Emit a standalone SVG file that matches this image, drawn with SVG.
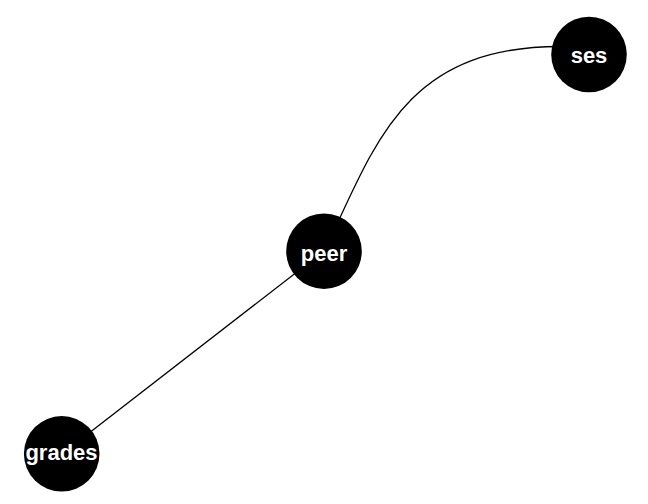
<svg xmlns="http://www.w3.org/2000/svg" width="648" height="504" viewBox="0 0 648 504">
<style>
.edge{fill:none;stroke:#000;stroke-width:1.3}
.node circle{fill:#000}
.node text{fill:#fff;font-family:"Liberation Sans",Arial,sans-serif;font-weight:bold;font-size:22px;text-anchor:middle}
</style>
<rect width="648" height="504" fill="#fff"/>
<g id="connectors">
<path class="edge" d="M324,251 L62,454"/>
<path class="edge" d="M333,233 C380,130 415,46.5 560,46.5"/>
</g>
<g id="node-ses" class="node"><circle cx="589" cy="54.5" r="37.8"/><text x="589" y="62.5">ses</text></g>
<g id="node-peer" class="node"><circle cx="324" cy="251.2" r="37.8"/><text x="324" y="261">peer</text></g>
<g id="node-grades" class="node"><circle cx="61.7" cy="453.8" r="37.8"/><text x="61.5" y="460">grades</text></g>
</svg>
